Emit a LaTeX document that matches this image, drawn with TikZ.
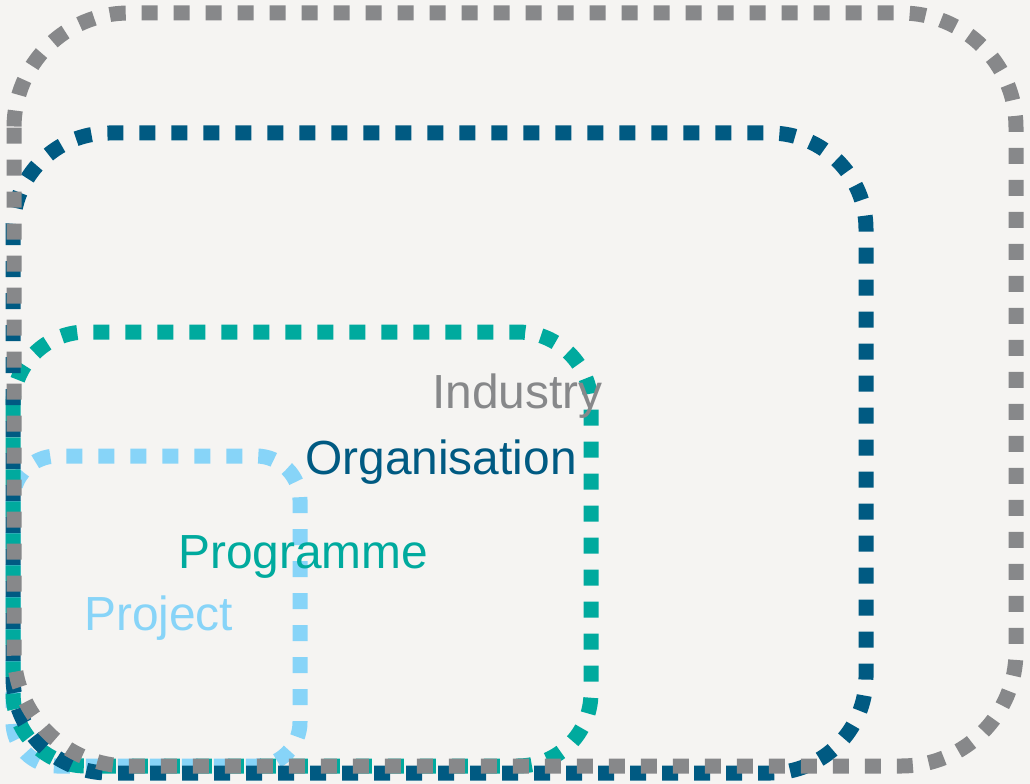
\documentclass[tikz,border=0pt]{standalone}
\usepackage{fontspec}
\setmainfont{Liberation Sans}
\definecolor{bg}{HTML}{F5F4F2}
\definecolor{cgray}{HTML}{87888A}
\definecolor{cdark}{HTML}{005A82}
\definecolor{cteal}{HTML}{00AA9E}
\definecolor{clight}{HTML}{87D4F8}
\begin{document}
\begin{tikzpicture}[x=0.75pt,y=-0.75pt,
  dotbox/.style={line width=11.25pt, dash pattern=on 12pt off 12pt, line cap=butt},
  lbl/.style={anchor=base west, inner sep=0pt, font=\fontsize{35.9}{40}\selectfont}]
\fill[bg] (0,0) rectangle (1030,784);
\useasboundingbox (0,0) rectangle (1030,784);
\draw[dotbox, clight, rounded corners=33pt] (13,456) rectangle (300,766);
\draw[dotbox, cteal, rounded corners=55pt] (13,332) rectangle (591,766);
\draw[dotbox, cdark, rounded corners=72pt] (13,133) rectangle (866,773);
\draw[dotbox, cgray, rounded corners=86pt] (14,13) rectangle (1016,766);
\node[lbl, text=cgray] (ind) at (432,408) {Industry};
\node[lbl, text=cdark] (org) at (305,474) {Organisation};
\node[lbl, text=cteal] (prg) at (178,568) {Programme};
\node[lbl, text=clight] (prj) at (84,630) {Project};
\end{tikzpicture}
\end{document}
